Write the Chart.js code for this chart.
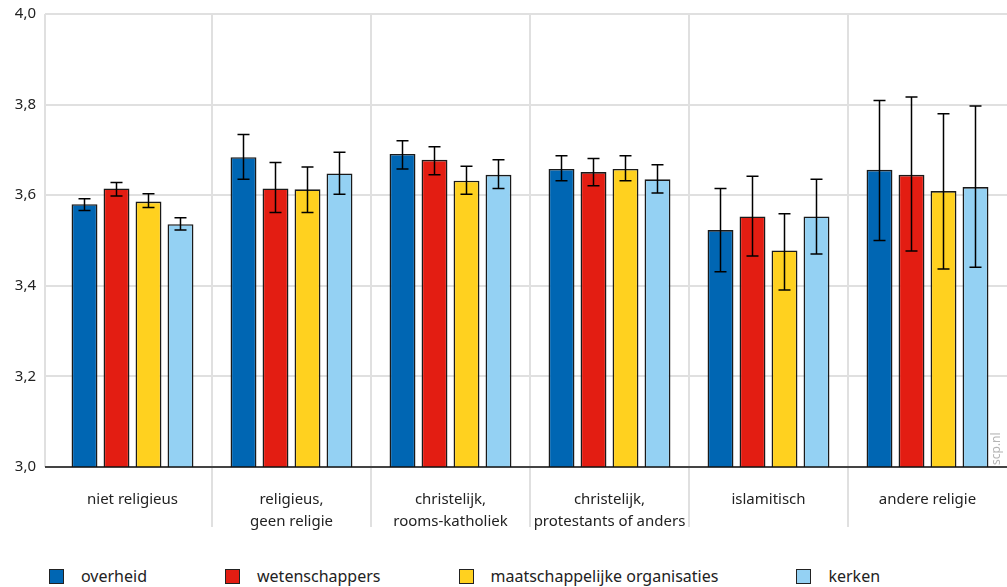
<!DOCTYPE html>
<html>
<head>
<meta charset="utf-8">
<script src="https://cdn.jsdelivr.net/npm/chart.js@4/dist/chart.umd.min.js"></script>
<style>
  body { margin: 0; background: #fff; font-family: "Noto Sans", sans-serif; }
  #wrap { position: relative; width: 1007px; height: 587px; }
  #legend { position: absolute; left: 49px; top: 565px; display: flex; font-size: 16px; color: #222; }
  #legend .item { display: flex; align-items: center; margin-right: 78px; }
  #legend .box { width: 13px; height: 13px; border: 1px solid #222; margin-right: 17px; }
</style>
</head>
<body>
<div id="wrap">
  <canvas id="chart" width="1007" height="560"></canvas>
  <div id="legend"></div>
</div>
<script>
const categories = [
  'niet religieus',
  ['religieus,', 'geen religie'],
  ['christelijk,', 'rooms-katholiek'],
  ['christelijk,', 'protestants of anders'],
  'islamitisch',
  'andere religie'
];
const seriesNames = ['overheid', 'wetenschappers', 'maatschappelijke organisaties', 'kerken'];
const seriesColors = ['#0066b3', '#e31d12', '#ffd11f', '#94d1f3'];

const overheid       = [3.580, 3.684, 3.691, 3.658, 3.523, 3.656];
const wetenschappers = [3.615, 3.615, 3.678, 3.651, 3.553, 3.645];
const maatschappelijk = [3.586, 3.613, 3.632, 3.658, 3.478, 3.609];
const kerken         = [3.536, 3.648, 3.645, 3.635, 3.553, 3.618];

const overheidLow  = [3.566, 3.635, 3.658, 3.632, 3.431, 3.500];
const overheidHigh = [3.592, 3.734, 3.720, 3.687, 3.615, 3.809];
const wetenLow  = [3.598, 3.562, 3.645, 3.621, 3.466, 3.477];
const wetenHigh = [3.628, 3.672, 3.707, 3.681, 3.642, 3.817];
const maatLow  = [3.573, 3.562, 3.602, 3.632, 3.391, 3.437];
const maatHigh = [3.603, 3.662, 3.664, 3.687, 3.559, 3.780];
const kerkLow  = [3.523, 3.602, 3.615, 3.605, 3.470, 3.441];
const kerkHigh = [3.550, 3.695, 3.678, 3.667, 3.635, 3.797];

const yTicks = [3.0, 3.2, 3.4, 3.6, 3.8, 4.0];

const seriesValues = [overheid, wetenschappers, maatschappelijk, kerken];
const seriesLow = [overheidLow, wetenLow, maatLow, kerkLow];
const seriesHigh = [overheidHigh, wetenHigh, maatHigh, kerkHigh];

const gridColor = '#e0e0e0';

const decorPlugin = {
  id: 'decor',
  beforeDatasetsDraw(chart) {
    const { ctx, chartArea, scales } = chart;
    const x = scales.x;
    ctx.save();
    ctx.strokeStyle = gridColor;
    ctx.lineWidth = 2;
    // left edge line
    ctx.beginPath();
    ctx.moveTo(chartArea.left - 8, chartArea.top);
    ctx.lineTo(chartArea.left - 8, chartArea.bottom);
    ctx.stroke();
    // separators between categories
    for (let i = 1; i < categories.length; i++) {
      const px = (x.getPixelForValue(i - 1) + x.getPixelForValue(i)) / 2;
      ctx.beginPath();
      ctx.moveTo(px, chartArea.top);
      ctx.lineTo(px, chartArea.bottom + 60);
      ctx.stroke();
    }
    ctx.restore();
  },
  afterDatasetsDraw(chart) {
    const { ctx, chartArea, scales } = chart;
    const y = scales.y;
    ctx.save();
    // baseline
    ctx.strokeStyle = '#111';
    ctx.lineWidth = 1.5;
    ctx.beginPath();
    ctx.moveTo(chartArea.left - 8, y.getPixelForValue(3.0));
    ctx.lineTo(chartArea.right, y.getPixelForValue(3.0));
    ctx.stroke();
    // error bars
    ctx.strokeStyle = '#000';
    ctx.lineWidth = 1.5;
    seriesValues.forEach((vals, i) => {
      const meta = chart.getDatasetMeta(i);
      meta.data.forEach((bar, j) => {
        const yLo = y.getPixelForValue(seriesLow[i][j]);
        const yHi = y.getPixelForValue(seriesHigh[i][j]);
        ctx.beginPath();
        ctx.moveTo(bar.x, yLo);
        ctx.lineTo(bar.x, yHi);
        ctx.moveTo(bar.x - 6, yLo);
        ctx.lineTo(bar.x + 6, yLo);
        ctx.moveTo(bar.x - 6, yHi);
        ctx.lineTo(bar.x + 6, yHi);
        ctx.stroke();
      });
    });
    // watermark
    ctx.translate(chartArea.right - 10, chartArea.bottom - 2);
    ctx.rotate(-Math.PI / 2);
    ctx.fillStyle = '#b5b5b5';
    ctx.font = '12px "Noto Sans"';
    ctx.textAlign = 'left';
    ctx.textBaseline = 'middle';
    ctx.fillText('scp.nl', 0, 0);
    ctx.restore();
  }
};

new Chart(document.getElementById('chart'), {
  type: 'bar',
  data: {
    labels: categories,
    datasets: seriesNames.map((name, i) => ({
      label: name,
      data: seriesValues[i],
      backgroundColor: seriesColors[i],
      borderColor: '#1a1a1a',
      borderWidth: 1.6,
      categoryPercentage: 0.805,
      barPercentage: 0.81
    }))
  },
  options: {
    responsive: false,
    animation: false,
    layout: { padding: { top: 14, right: 0, bottom: 0, left: 0 } },
    plugins: { legend: { display: false }, tooltip: { enabled: false } },
    scales: {
      x: {
        grid: { display: false },
        border: { display: false },
        ticks: { color: '#222', font: { family: 'Noto Sans', size: 15, lineHeight: 1.5 }, padding: 13, maxRotation: 0, autoSkip: false },
        afterFit(scale) { scale.height = 93; }
      },
      y: {
        min: 3.0,
        max: 4.0,
        afterBuildTicks(scale) { scale.ticks = yTicks.map(v => ({ value: v })); },
        grid: { color: gridColor, lineWidth: 2, tickLength: 8 },
        border: { display: false },
        ticks: {
          color: '#222',
          font: { family: 'Noto Sans', size: 15 },
          padding: 9,
          callback: v => v.toFixed(1).replace('.', ',')
        },
        afterFit(scale) { scale.width = 53; scale.paddingTop = 0; scale.paddingBottom = 0; }
      }
    }
  },
  plugins: [decorPlugin]
});

const legend = document.getElementById('legend');
seriesNames.forEach((name, i) => {
  const item = document.createElement('div');
  item.className = 'item';
  const box = document.createElement('span');
  box.className = 'box';
  box.style.background = seriesColors[i];
  const txt = document.createElement('span');
  txt.textContent = name;
  item.appendChild(box);
  item.appendChild(txt);
  legend.appendChild(item);
});
</script>
</body>
</html>
